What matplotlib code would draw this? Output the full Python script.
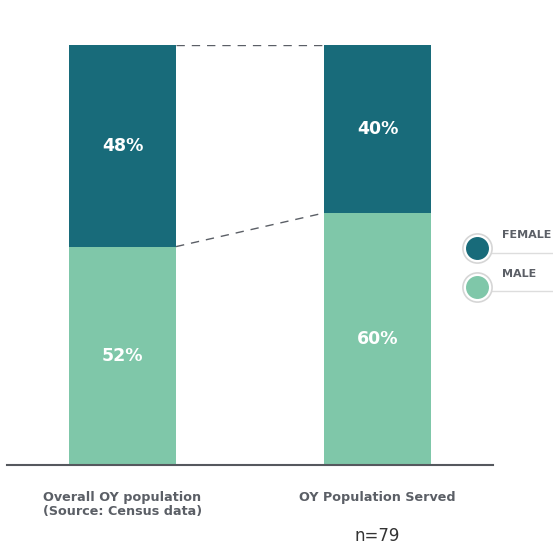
import matplotlib.pyplot as plt
from matplotlib.lines import Line2D

groups = ["Overall OY population\n(Source: Census data)", "OY Population Served"]
male = [52, 60]
female = [48, 40]
sample_note = "n=79"

teal = "#186b7a"
green = "#7fc7a9"
grey = "#5b5f66"

W, H = 553, 548
fig = plt.figure(figsize=(W / 100, H / 100), dpi=100)
ax = fig.add_axes([7 / W, 1 - 465 / H, (493 - 7) / W, (465 - 45) / H])

x = [0, 1]
width = 0.42
ax.bar(x, male, width, color=green)
ax.bar(x, female, width, bottom=male, color=teal)

for i in x:
    ax.text(i, male[i] / 2, f"{male[i]}%", ha="center", va="center",
            color="white", fontsize=12.5, fontweight="bold")
    ax.text(i, male[i] + female[i] / 2, f"{female[i]}%", ha="center", va="center",
            color="white", fontsize=12.5, fontweight="bold")

# dashed connectors between segment tops
ax.plot([width / 2, 1 - width / 2], [100, 100], ls=(0, (6, 5)), color=grey, lw=1)
ax.plot([width / 2, 1 - width / 2], [male[0], male[1]], ls=(0, (6, 5)), color=grey, lw=1)

ax.set_xlim(-0.453, 1.453)
ax.set_ylim(0, 100)
for s in ["top", "right", "left"]:
    ax.spines[s].set_visible(False)
ax.spines["bottom"].set_color("#55585e")
ax.spines["bottom"].set_linewidth(1.5)
ax.set_yticks([])
ax.set_xticks(x)
ax.set_xticklabels(groups, fontsize=9.2, color=grey, fontweight="bold", linespacing=1.1)
ax.tick_params(axis="x", length=0, pad=19)
for lbl in ax.get_xticklabels():
    lbl.set_va("top")

fig.text(377.5 / W, 1 - 536 / H, sample_note, ha="center", va="center",
         fontsize=12, color="#333333")

# legend: ringed dots with a rule line
legend = [("FEMALE", teal, 248, 253, 235), ("MALE", green, 287, 291, 274)]
for name, col, cy, ly, ty in legend:
    fig.add_artist(Line2D([490 / W, 1], [1 - ly / H] * 2, color="#dddddd", lw=1,
                          transform=fig.transFigure))
    fig.add_artist(Line2D([477 / W], [1 - cy / H], marker="o", ms=21, mfc="white",
                          mec="#d6d6d6", mew=1.2, transform=fig.transFigure))
    fig.add_artist(Line2D([477 / W], [1 - cy / H], marker="o", ms=15.5, mfc=col,
                          mec=col, transform=fig.transFigure))
    fig.text(502 / W, 1 - ty / H, name, fontsize=8, color=grey, va="center",
             fontweight="semibold")

fig.savefig("out.png", dpi=100)
